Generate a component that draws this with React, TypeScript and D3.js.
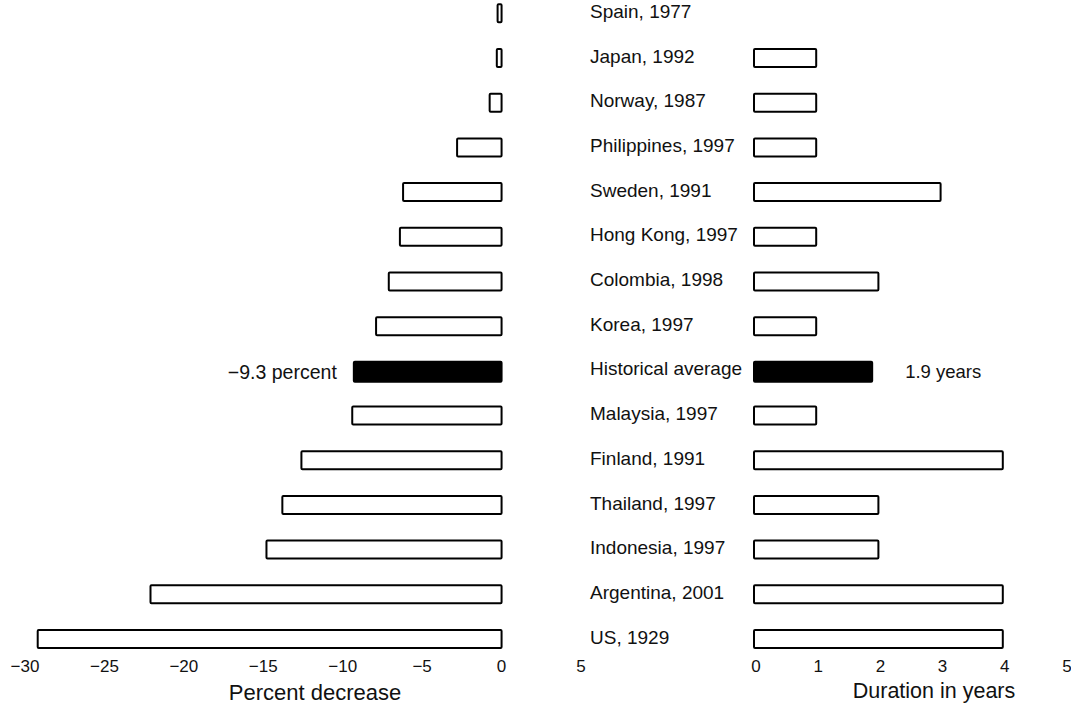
import React from "react";
import * as d3 from "d3";

const categories = [
  "Spain, 1977",
  "Japan, 1992",
  "Norway, 1987",
  "Philippines, 1997",
  "Sweden, 1991",
  "Hong Kong, 1997",
  "Colombia, 1998",
  "Korea, 1997",
  "Historical average",
  "Malaysia, 1997",
  "Finland, 1991",
  "Thailand, 1997",
  "Indonesia, 1997",
  "Argentina, 2001",
  "US, 1929",
];

const percentDecrease = [
  -0.25, -0.3, -0.75, -2.8, -6.2, -6.4, -7.1, -7.9, -9.3, -9.4, -12.6, -13.8,
  -14.8, -22.1, -29.2,
];

const durationYears: (number | null)[] = [
  null, 1, 1, 1, 3, 1, 2, 1, 1.9, 1, 4, 2, 2, 4, 4,
];

const leftTicks = [-30, -25, -20, -15, -10, -5, 0, 5];
const rightTicks = [0, 1, 2, 3, 4, 5];

const highlight = "Historical average";
const leftAnnotation = "\u22129.3 percent";
const rightAnnotation = "1.9 years";
const leftTitle = "Percent decrease";
const rightTitle = "Duration in years";

const W = 1071;
const H = 711;
const FONT = "'Liberation Sans', Arial, Helvetica, sans-serif";

export default function App() {
  const xL = d3.scaleLinear().domain([-30, 5]).range([25, 581]);
  const xR = d3.scaleLinear().domain([0, 5]).range([754, 1065]);
  const y = d3.scalePoint<string>().domain(categories).range([13.3, 639]);
  const barH = 18;

  const fmt = (v: number) => (v < 0 ? "\u2212" + Math.abs(v) : String(v));

  return (
    <svg
      width={W}
      height={H}
      style={{ position: "absolute", left: 0, top: 0, background: "#fff" }}
      fontFamily={FONT}
    >
      {/* Left bars */}
      {categories.map((c, i) => {
        const v = percentDecrease[i];
        const x0 = xL(v);
        const x1 = xL(0);
        const hi = c === highlight;
        const yc = y(c)!;
        return (
          <rect
            key={"l" + c}
            x={x0}
            y={yc - barH / 2}
            width={Math.max(x1 - x0, 1)}
            height={hi ? barH + 2 : barH}
            fill={hi ? "#000" : "#fff"}
            stroke="#000"
            strokeWidth={2}
            rx={1}
          />
        );
      })}

      {/* Right bars */}
      {categories.map((c, i) => {
        const v = durationYears[i];
        if (v == null) return null;
        const hi = c === highlight;
        const yc = y(c)!;
        return (
          <rect
            key={"r" + c}
            x={xR(0)}
            y={yc - barH / 2}
            width={xR(v) - xR(0)}
            height={hi ? barH + 2 : barH}
            fill={hi ? "#000" : "#fff"}
            stroke="#000"
            strokeWidth={2}
            rx={1}
          />
        );
      })}

      {/* Category labels */}
      {categories.map((c) => (
        <text
          key={"t" + c}
          x={590}
          y={y(c)! - 2}
          dy="0.35em"
          fontSize={19}
          fill="#111"
        >
          {c}
        </text>
      ))}

      {/* Annotations */}
      <text
        x={xL(-9.3) - 17}
        y={y(highlight)! + 1}
        dy="0.35em"
        textAnchor="end"
        fontSize={19.5}
        fill="#111"
      >
        {leftAnnotation}
      </text>
      <text
        x={xR(1.9) + 33}
        y={y(highlight)! + 1}
        dy="0.35em"
        fontSize={18.5}
        fill="#111"
      >
        {rightAnnotation}
      </text>

      {/* Left tick labels */}
      {leftTicks.map((t) => (
        <text
          key={"lt" + t}
          x={xL(t)}
          y={672}
          textAnchor="middle"
          fontSize={17}
          fill="#111"
        >
          {fmt(t)}
        </text>
      ))}
      {/* Right tick labels */}
      {rightTicks.map((t) => (
        <text
          key={"rt" + t}
          x={xR(t) + 2}
          y={672}
          textAnchor="middle"
          fontSize={17}
          fill="#111"
        >
          {fmt(t)}
        </text>
      ))}

      {/* Axis titles */}
      <text
        x={315}
        y={700}
        textAnchor="middle"
        fontSize={22}
        fill="#111"
      >
        {leftTitle}
      </text>
      <text
        x={934}
        y={698}
        textAnchor="middle"
        fontSize={21.5}
        fill="#111"
      >
        {rightTitle}
      </text>
    </svg>
  );
}
